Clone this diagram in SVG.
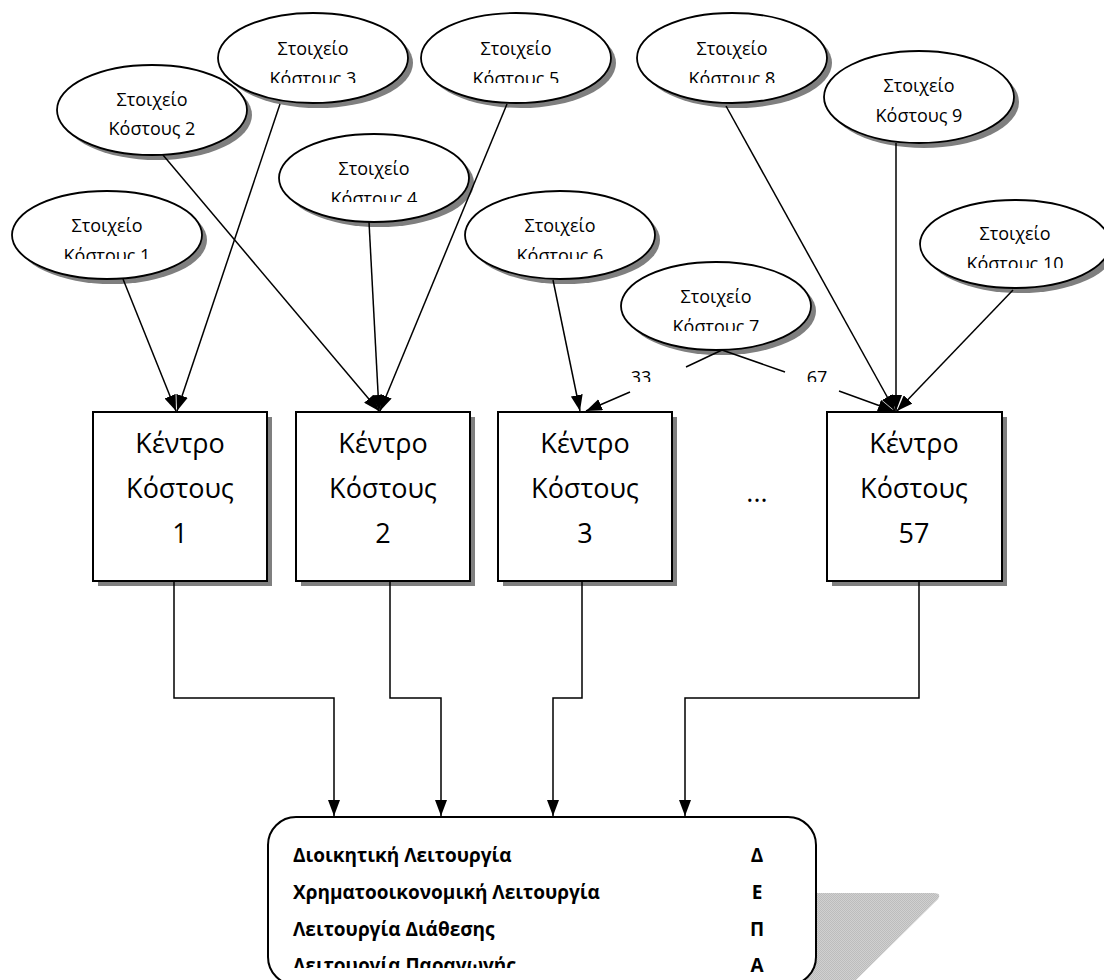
<svg xmlns="http://www.w3.org/2000/svg" width="1104" height="980" viewBox="0 0 1104 980">
  <style>
    .el { fill: #ffffff; stroke: #000000; stroke-width: 1.8; }
    .el-sh { fill: #7f7f7f; }
    .el-t { font-family: "Open Sans", "Noto Sans", sans-serif; font-size: 18px; text-anchor: middle; fill: #000; }
    .bx { fill: #ffffff; stroke: #000000; stroke-width: 2; }
    .bx-sh { fill: #7f7f7f; }
    .bx-t { font-family: "Open Sans", "Noto Sans", sans-serif; font-size: 27px; text-anchor: middle; fill: #000; }
    .lbl { font-family: "Open Sans", "Noto Sans", sans-serif; font-size: 18px; text-anchor: middle; fill: #000; }
    .cn { fill: none; stroke: #000000; stroke-width: 1.5; }
    .fn { font-family: "Open Sans", "Noto Sans", sans-serif; font-size: 19px; font-weight: 700; fill: #000; }
  </style>
  <defs>
    <marker id="ah" viewBox="0 0 16 12" refX="16" refY="6" markerWidth="16" markerHeight="12" markerUnits="userSpaceOnUse" orient="auto">
      <path d="M0,0 L16,6 L0,12 z" fill="#000"/>
    </marker>
    <pattern id="hatch" width="2" height="2" patternUnits="userSpaceOnUse">
      <rect width="2" height="2" fill="#d0d0d0"/>
      <rect width="1" height="1" fill="#bcbcbc"/>
      <rect x="1" y="1" width="1" height="1" fill="#bcbcbc"/>
    </pattern>
    <clipPath id="c1"><rect x="0" y="180" width="240" height="79"/></clipPath>
    <clipPath id="c3"><rect x="200" y="0" width="230" height="83"/></clipPath>
    <clipPath id="c4"><rect x="260" y="120" width="230" height="82"/></clipPath>
    <clipPath id="c5"><rect x="400" y="0" width="230" height="83"/></clipPath>
    <clipPath id="c6"><rect x="450" y="180" width="230" height="79"/></clipPath>
    <clipPath id="c7"><rect x="600" y="250" width="230" height="81"/></clipPath>
    <clipPath id="c8"><rect x="620" y="0" width="230" height="83"/></clipPath>
    <clipPath id="c10"><rect x="900" y="190" width="204" height="78"/></clipPath>
    <clipPath id="cl33"><rect x="600" y="360" width="90" height="22"/></clipPath>
    <clipPath id="cl67"><rect x="780" y="360" width="90" height="22"/></clipPath>
    <clipPath id="cfn"><rect x="270" y="940" width="420" height="28"/></clipPath>
  </defs>

  <!-- cost elements -->
  <g id="element-2">
    <ellipse class="el-sh" cx="157" cy="115" rx="95" ry="45"/>
    <ellipse class="el" cx="152" cy="110" rx="95" ry="45"/>
    <text class="el-t" x="152" y="106">Στοιχείο</text>
    <text class="el-t" x="152" y="135">Κόστους 2</text>
  </g>
  <g id="element-3">
    <ellipse class="el-sh" cx="318" cy="63" rx="95" ry="45"/>
    <ellipse class="el" cx="313" cy="58" rx="95" ry="45"/>
    <text class="el-t" x="313" y="55">Στοιχείο</text>
    <text class="el-t" x="313" y="85" clip-path="url(#c3)">Κόστους 3</text>
  </g>
  <g id="element-1">
    <ellipse class="el-sh" cx="112" cy="240" rx="95" ry="44"/>
    <ellipse class="el" cx="107" cy="235" rx="95" ry="44"/>
    <text class="el-t" x="107" y="232">Στοιχείο</text>
    <text class="el-t" x="107" y="262" clip-path="url(#c1)">Κόστους 1</text>
  </g>
  <g id="element-4">
    <ellipse class="el-sh" cx="379" cy="183" rx="95" ry="44"/>
    <ellipse class="el" cx="374" cy="178" rx="95" ry="44"/>
    <text class="el-t" x="374" y="175">Στοιχείο</text>
    <text class="el-t" x="374" y="205" clip-path="url(#c4)">Κόστους 4</text>
  </g>
  <g id="element-5">
    <ellipse class="el-sh" cx="521" cy="63" rx="95" ry="45"/>
    <ellipse class="el" cx="516" cy="58" rx="95" ry="45"/>
    <text class="el-t" x="516" y="55">Στοιχείο</text>
    <text class="el-t" x="516" y="85" clip-path="url(#c5)">Κόστους 5</text>
  </g>
  <g id="element-6">
    <ellipse class="el-sh" cx="565" cy="240" rx="95" ry="44"/>
    <ellipse class="el" cx="560" cy="235" rx="95" ry="44"/>
    <text class="el-t" x="560" y="232">Στοιχείο</text>
    <text class="el-t" x="560" y="262" clip-path="url(#c6)">Κόστους 6</text>
  </g>
  <g id="element-7">
    <ellipse class="el-sh" cx="721" cy="311" rx="95" ry="44"/>
    <ellipse class="el" cx="716" cy="306" rx="95" ry="44"/>
    <text class="el-t" x="716" y="303">Στοιχείο</text>
    <text class="el-t" x="716" y="333" clip-path="url(#c7)">Κόστους 7</text>
  </g>
  <g id="element-8">
    <ellipse class="el-sh" cx="737" cy="63" rx="95" ry="45"/>
    <ellipse class="el" cx="732" cy="58" rx="95" ry="45"/>
    <text class="el-t" x="732" y="55">Στοιχείο</text>
    <text class="el-t" x="732" y="85" clip-path="url(#c8)">Κόστους 8</text>
  </g>
  <g id="element-9">
    <ellipse class="el-sh" cx="924" cy="102" rx="95" ry="46"/>
    <ellipse class="el" cx="919" cy="97" rx="95" ry="46"/>
    <text class="el-t" x="919" y="92">Στοιχείο</text>
    <text class="el-t" x="919" y="122">Κόστους 9</text>
  </g>
  <g id="element-10">
    <ellipse class="el-sh" cx="1020" cy="249" rx="95" ry="44"/>
    <ellipse class="el" cx="1015" cy="244" rx="95" ry="44"/>
    <text class="el-t" x="1015" y="240">Στοιχείο</text>
    <text class="el-t" x="1015" y="270" clip-path="url(#c10)">Κόστους 10</text>
  </g>

  <!-- cost centres -->
  <g id="centre-1">
    <rect class="bx-sh" x="98" y="417" width="174" height="169"/>
    <rect class="bx" x="93" y="412" width="174" height="169"/>
    <text class="bx-t" x="180" y="453">Κέντρο</text>
    <text class="bx-t" x="180" y="498">Κόστους</text>
    <text class="bx-t" x="180" y="543">1</text>
  </g>
  <g id="centre-2">
    <rect class="bx-sh" x="301" y="417" width="174" height="169"/>
    <rect class="bx" x="296" y="412" width="174" height="169"/>
    <text class="bx-t" x="383" y="453">Κέντρο</text>
    <text class="bx-t" x="383" y="498">Κόστους</text>
    <text class="bx-t" x="383" y="543">2</text>
  </g>
  <g id="centre-3">
    <rect class="bx-sh" x="503" y="417" width="174" height="169"/>
    <rect class="bx" x="498" y="412" width="174" height="169"/>
    <text class="bx-t" x="585" y="453">Κέντρο</text>
    <text class="bx-t" x="585" y="498">Κόστους</text>
    <text class="bx-t" x="585" y="543">3</text>
  </g>
  <g id="ellipsis">
    <text class="bx-t" x="757" y="502">...</text>
  </g>
  <g id="centre-57">
    <rect class="bx-sh" x="832" y="417" width="175" height="169"/>
    <rect class="bx" x="827" y="412" width="175" height="169"/>
    <text class="bx-t" x="914" y="453">Κέντρο</text>
    <text class="bx-t" x="914" y="498">Κόστους</text>
    <text class="bx-t" x="914" y="543">57</text>
  </g>

  <!-- functions -->
  <g id="functions">
    <path d="M780,893 L934,893 Q942,893 938,899 L856,980 L780,980 z" fill="url(#hatch)"/>
    <rect class="bx" x="268" y="817" width="548" height="168" rx="28" ry="28"/>
    <text class="fn" x="293" y="862">Διοικητική Λειτουργία</text>
    <text class="fn" x="293" y="899">Χρηματοοικονομική Λειτουργία</text>
    <text class="fn" x="293" y="936">Λειτουργία Διάθεσης</text>
    <text class="fn" x="293" y="972" clip-path="url(#cfn)">Λειτουργία Παραγωγής</text>
    <text class="fn" x="757" y="862" text-anchor="middle">Δ</text>
    <text class="fn" x="757" y="899" text-anchor="middle">Ε</text>
    <text class="fn" x="757" y="936" text-anchor="middle">Π</text>
    <text class="fn" x="757" y="972" text-anchor="middle">Α</text>
  </g>

  <!-- connectors -->
  <g id="connectors">
    <line class="cn" x1="123" y1="279" x2="176" y2="411" marker-end="url(#ah)"/>
    <line class="cn" x1="280" y1="104" x2="177" y2="411" marker-end="url(#ah)"/>
    <line class="cn" x1="163" y1="155" x2="379" y2="411" marker-end="url(#ah)"/>
    <line class="cn" x1="369" y1="222" x2="379" y2="411" marker-end="url(#ah)"/>
    <line class="cn" x1="507" y1="104" x2="380" y2="411" marker-end="url(#ah)"/>
    <line class="cn" x1="553" y1="280" x2="580" y2="411" marker-end="url(#ah)"/>
    <line class="cn" x1="722" y1="350" x2="686" y2="367"/>
    <line class="cn" x1="630" y1="392" x2="586" y2="411" marker-end="url(#ah)"/>
    <line class="cn" x1="722" y1="350" x2="785" y2="372"/>
    <line class="cn" x1="839" y1="391" x2="894" y2="411" marker-end="url(#ah)"/>
    <line class="cn" x1="726" y1="106" x2="895" y2="411" marker-end="url(#ah)"/>
    <line class="cn" x1="896" y1="143" x2="896" y2="411" marker-end="url(#ah)"/>
    <line class="cn" x1="1013" y1="290" x2="897" y2="411" marker-end="url(#ah)"/>
    <text class="lbl" x="641" y="384" clip-path="url(#cl33)">33</text>
    <text class="lbl" x="817" y="384" clip-path="url(#cl67)">67</text>
    <polyline class="cn" points="174,581 174,698 334,698 334,816" marker-end="url(#ah)"/>
    <polyline class="cn" points="390,581 390,698 441,698 441,816" marker-end="url(#ah)"/>
    <polyline class="cn" points="582,581 582,698 553,698 553,816" marker-end="url(#ah)"/>
    <polyline class="cn" points="919,581 919,698 685,698 685,816" marker-end="url(#ah)"/>
  </g>
</svg>
